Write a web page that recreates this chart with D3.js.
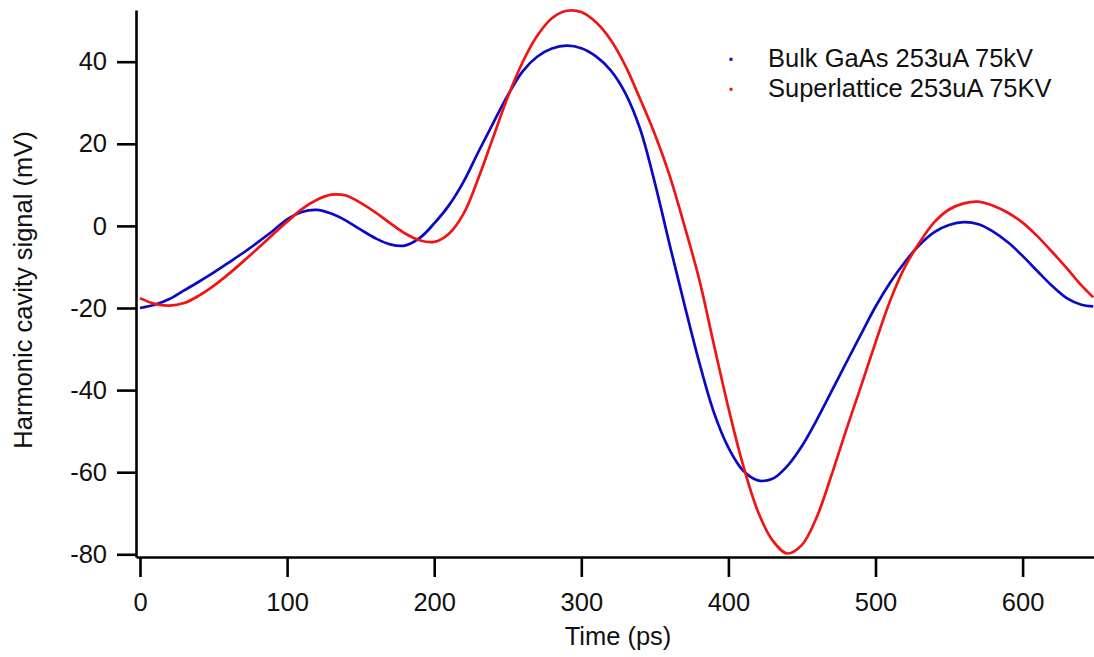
<!DOCTYPE html>
<html>
<head>
<meta charset="utf-8">
<script src="https://cdn.jsdelivr.net/npm/d3@7"></script>
<style>
  html, body { margin: 0; padding: 0; background: #fff; }
  svg { display: block; font-family: "Liberation Sans", Arial, sans-serif; }
</style>
</head>
<body>
<svg id="chart" width="1094" height="657"></svg>
<script>
// ---- Data ----
const timePs = [0,10,20,30,40,50,60,70,80,90,100,110,120,130,140,150,160,170,180,190,
  200,210,220,230,240,250,260,270,280,290,300,310,320,330,340,350,360,370,380,390,
  400,410,420,430,440,450,460,470,480,490,500,510,520,530,540,550,560,570,580,590,
  600,610,620,630,640,648];

const bulkGaAs = [-20.0,-19.2,-17.8,-15.7,-13.6,-11.4,-9.0,-6.6,-4.0,-1.3,
  1.6,3.4,3.9,3.0,1.3,-0.9,-3.0,-4.5,-4.8,-3.0,
  0.6,5.0,10.8,18.0,25.0,31.8,37.6,41.2,43.2,43.9,
  43.3,41.3,37.9,32.3,23.6,10.5,-4.5,-19.0,-33.0,-45.3,
  -54.0,-59.6,-62.0,-61.6,-58.5,-53.6,-47.3,-40.4,-33.4,-26.5,
  -19.7,-13.8,-8.8,-4.6,-1.5,0.2,0.9,0.4,-1.4,-4.0,
  -7.3,-11.0,-14.6,-17.6,-19.2,-19.6];

const superlattice = [-17.6,-19.0,-19.4,-18.8,-17.0,-14.6,-11.8,-8.7,-5.5,-2.2,
  1.0,4.1,6.3,7.6,7.4,5.6,3.3,0.7,-1.8,-3.5,
  -3.9,-1.9,3.0,11.6,21.5,31.4,39.8,46.3,50.6,52.4,
  52.1,49.6,45.3,39.0,30.9,22.3,12.3,0.2,-12.8,-28.7,
  -44.3,-58.3,-69.5,-76.6,-79.8,-77.7,-71.0,-60.8,-49.8,-39.2,
  -28.4,-18.2,-10.0,-4.0,0.9,4.0,5.5,5.9,4.9,3.2,
  0.8,-2.5,-6.3,-10.3,-14.5,-17.4];

const seriesNames = ["Bulk GaAs 253uA 75kV", "Superlattice 253uA 75KV"];
const seriesColors = ["#0a0ac4", "#f01414"];
const xTicks = [0,100,200,300,400,500,600];
const yTicks = [-80,-60,-40,-20,0,20,40];
const xTitle = "Time (ps)";
const yTitle = "Harmonic cavity signal (mV)";

// ---- Layout ----
const svg = d3.select("#chart");
const axisLeftX = 136, axisBottomY = 557, plotTop = 10, plotRight = 1094;
const pxPerPs = 1.471, pxPerMv = 4.105, x0px = 140, y0px = 225.9;

const x = d3.scaleLinear()
  .domain([(axisLeftX - x0px) / pxPerPs, (plotRight - x0px) / pxPerPs])
  .range([axisLeftX, plotRight]);
const y = d3.scaleLinear()
  .domain([(y0px - axisBottomY) / pxPerMv, (y0px - plotTop) / pxPerMv])
  .range([axisBottomY, plotTop]);

const fontSize = "25.5px";

// Curves
const series = [bulkGaAs, superlattice];
const line = d3.line()
  .x((d, i) => x(timePs[i]))
  .y(d => y(d))
  .curve(d3.curveCatmullRom.alpha(0.5));

svg.append("defs").append("clipPath").attr("id", "clip")
  .append("rect").attr("x", axisLeftX).attr("y", 0)
  .attr("width", plotRight - axisLeftX).attr("height", axisBottomY);

svg.append("g").attr("clip-path", "url(#clip)")
  .selectAll("path").data(series).join("path")
  .attr("d", d => line(d))
  .attr("fill", "none")
  .attr("stroke", (d, i) => seriesColors[i])
  .attr("stroke-width", 2.7)
  .attr("stroke-linejoin", "round");

// Axes
const xAxis = svg.append("g")
  .attr("transform", `translate(0,${axisBottomY})`)
  .call(d3.axisBottom(x).tickValues(xTicks).tickSize(20).tickSizeOuter(0).tickPadding(16).tickFormat(d3.format("d")));
const yAxis = svg.append("g")
  .attr("transform", `translate(${axisLeftX},0)`)
  .call(d3.axisLeft(y).tickValues(yTicks).tickSize(19).tickSizeOuter(0).tickPadding(10).tickFormat(d3.format("d")));

[xAxis, yAxis].forEach(g => {
  g.select(".domain").attr("stroke", "#000").attr("stroke-width", 2.6);
  g.selectAll(".tick line").attr("stroke", "#000").attr("stroke-width", 2.6);
  g.selectAll(".tick text").attr("fill", "#111").style("font-size", fontSize)
    .style("font-family", "'Liberation Sans', Arial, sans-serif");
});
yAxis.selectAll(".tick text").text(d => d < 0 ? "-" + Math.abs(d) : d);

// Axis titles
svg.append("text")
  .attr("x", 618).attr("y", 645)
  .attr("text-anchor", "middle")
  .style("font-size", fontSize).attr("fill", "#111")
  .text(xTitle);
svg.append("text")
  .attr("transform", "translate(32,290) rotate(-90)")
  .attr("text-anchor", "middle")
  .style("font-size", fontSize).attr("fill", "#111")
  .text(yTitle);

// Legend
const legend = svg.append("g");
seriesNames.forEach((name, i) => {
  legend.append("rect")
    .attr("x", 729.5).attr("y", 57.8 + i * 30)
    .attr("width", 3).attr("height", 3)
    .attr("fill", seriesColors[i]);
  legend.append("text")
    .attr("x", 768).attr("y", 66.7 + i * 30)
    .style("font-size", fontSize).attr("fill", "#111")
    .text(name);
});
</script>
</body>
</html>
